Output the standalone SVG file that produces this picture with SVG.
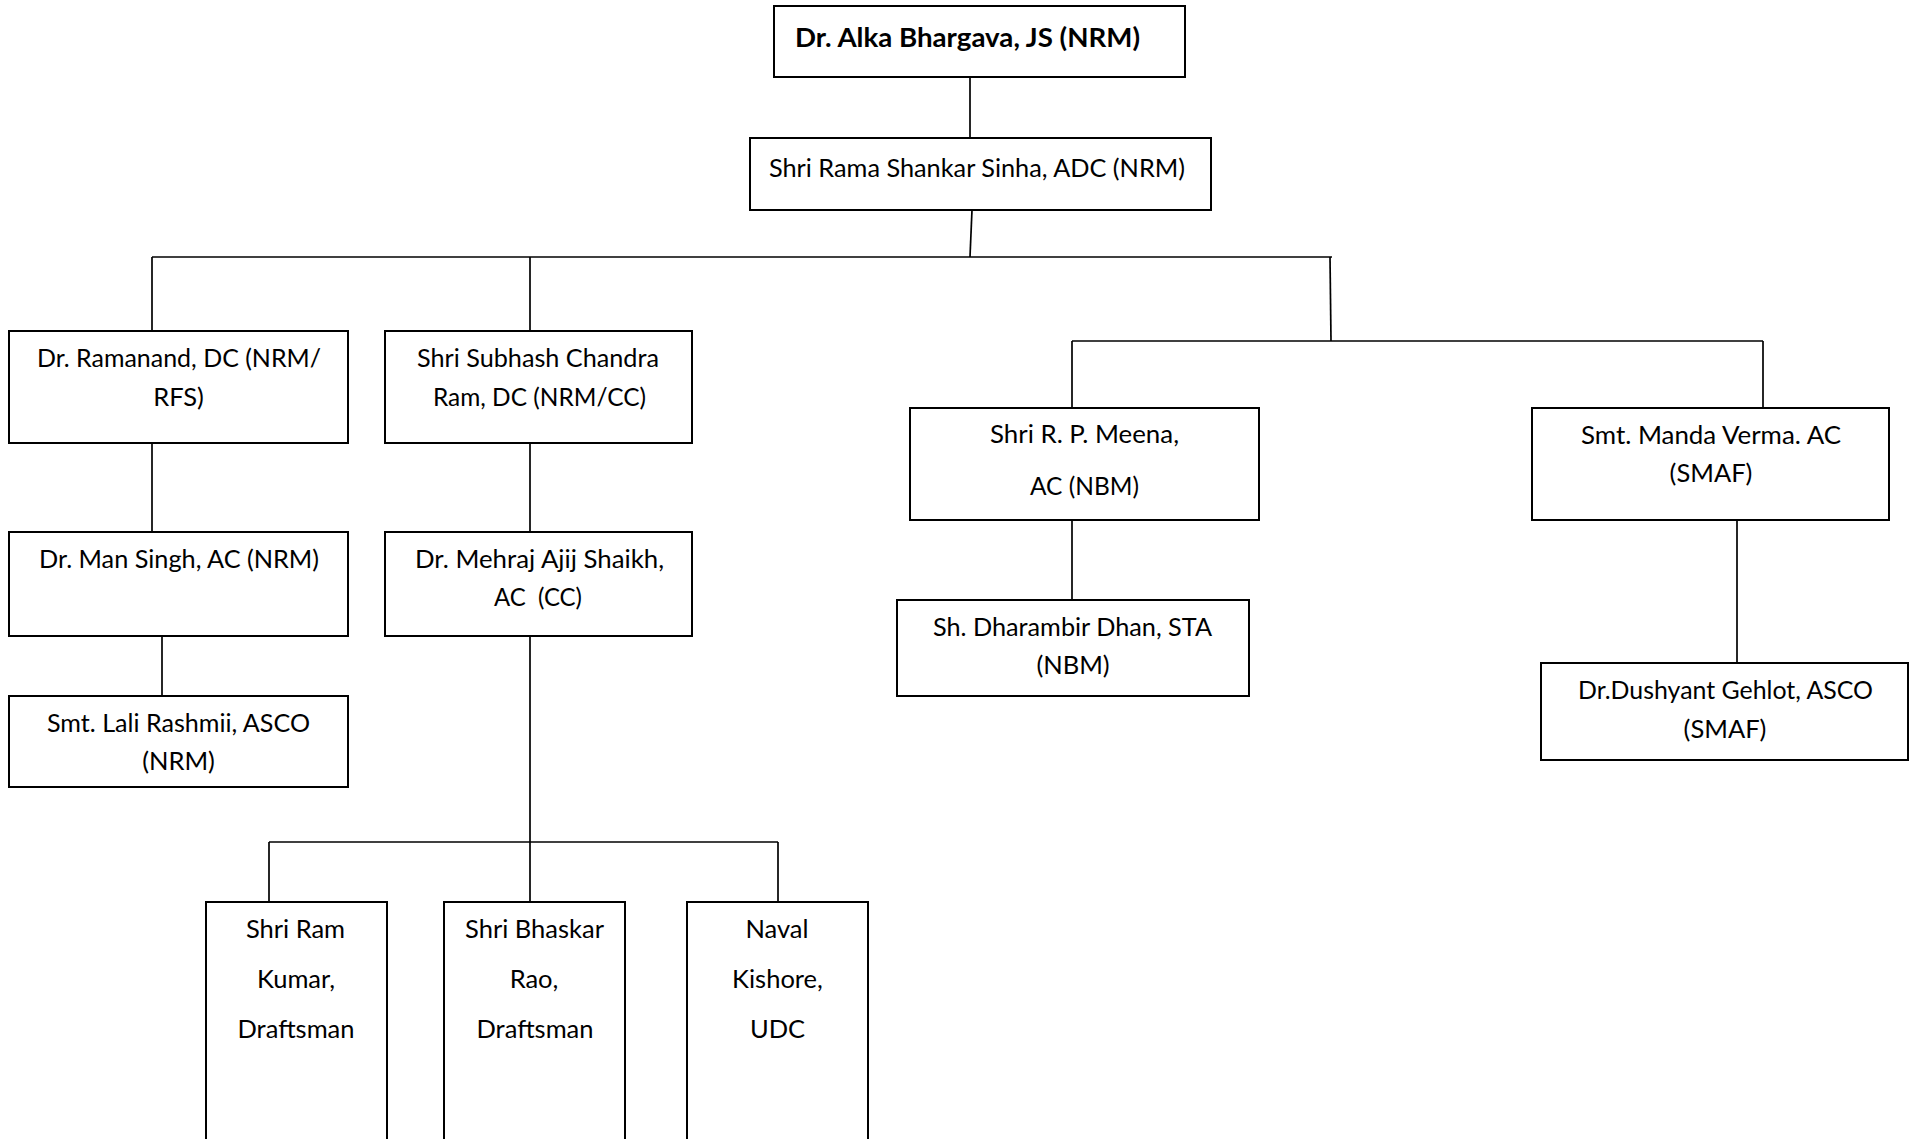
<svg xmlns="http://www.w3.org/2000/svg" width="1918" height="1139" viewBox="0 0 1918 1139">
<style>
.box{fill:#fff;stroke:#000;stroke-width:2}
.ln{stroke:#000;stroke-width:1.7;fill:none}
text{font-family:Lato,"Noto Sans",sans-serif;font-size:25.5px;fill:#000;text-anchor:middle;lengthAdjust:spacingAndGlyphs}
.b{font-weight:bold;font-size:27.5px}
</style>
<rect width="1918" height="1139" fill="#fff"/>
<g id="connectors">
<line class="ln" x1="970" y1="77" x2="970" y2="138"/>
<line class="ln" x1="972" y1="210" x2="970" y2="257"/>
<line class="ln" x1="152" y1="257" x2="1332" y2="257"/>
<line class="ln" x1="152" y1="257" x2="152" y2="331"/>
<line class="ln" x1="530" y1="257" x2="530" y2="331"/>
<line class="ln" x1="1330" y1="257" x2="1331" y2="341"/>
<line class="ln" x1="1072" y1="341" x2="1763" y2="341"/>
<line class="ln" x1="1072" y1="341" x2="1072" y2="408"/>
<line class="ln" x1="1763" y1="341" x2="1763" y2="408"/>
<line class="ln" x1="152" y1="443" x2="152" y2="532"/>
<line class="ln" x1="162" y1="636" x2="162" y2="696"/>
<line class="ln" x1="530" y1="443" x2="530" y2="532"/>
<line class="ln" x1="530" y1="636" x2="530" y2="902"/>
<line class="ln" x1="269" y1="842" x2="778" y2="842"/>
<line class="ln" x1="269" y1="842" x2="269" y2="902"/>
<line class="ln" x1="778" y1="842" x2="778" y2="902"/>
<line class="ln" x1="1072" y1="520" x2="1072" y2="600"/>
<line class="ln" x1="1737" y1="520" x2="1737" y2="663"/>
</g>
<g id="n-alka"><rect class="box" x="774" y="6" width="411" height="71"/><text class="b" x="967.5" y="47" textLength="345" lengthAdjust="spacingAndGlyphs">Dr. Alka Bhargava, JS (NRM)</text></g>
<g id="n-sinha"><rect class="box" x="750" y="138" width="461" height="72"/><text x="977" y="177" textLength="416" lengthAdjust="spacingAndGlyphs">Shri Rama Shankar Sinha, ADC (NRM)</text></g>
<g id="n-ramanand"><rect class="box" x="9" y="331" width="339" height="112"/><text x="179" y="367" textLength="284" lengthAdjust="spacingAndGlyphs">Dr. Ramanand, DC (NRM/</text><text x="178.5" y="406">RFS)</text></g>
<g id="n-subhash"><rect class="box" x="385" y="331" width="307" height="112"/><text x="538" y="367" textLength="242" lengthAdjust="spacingAndGlyphs">Shri Subhash Chandra</text><text x="539.5" y="406" textLength="213" lengthAdjust="spacingAndGlyphs">Ram, DC (NRM/CC)</text></g>
<g id="n-mansingh"><rect class="box" x="9" y="532" width="339" height="104"/><text x="179" y="568" textLength="280" lengthAdjust="spacingAndGlyphs">Dr. Man Singh, AC (NRM)</text></g>
<g id="n-mehraj"><rect class="box" x="385" y="532" width="307" height="104"/><text x="539.5" y="568" textLength="249" lengthAdjust="spacingAndGlyphs">Dr. Mehraj Ajij Shaikh,</text><text x="538" y="606" style="white-space:pre" textLength="88" lengthAdjust="spacingAndGlyphs">AC  (CC)</text></g>
<g id="n-lali"><rect class="box" x="9" y="696" width="339" height="91"/><text x="178.5" y="732" textLength="263" lengthAdjust="spacingAndGlyphs">Smt. Lali Rashmii, ASCO</text><text x="178.5" y="770">(NRM)</text></g>
<g id="n-ramkumar"><rect class="box" x="206" y="902" width="181" height="250"/><text x="295.5" y="938">Shri Ram</text><text x="296" y="988">Kumar,</text><text x="296" y="1038">Draftsman</text></g>
<g id="n-bhaskar"><rect class="box" x="444" y="902" width="181" height="250"/><text x="534.5" y="938">Shri Bhaskar</text><text x="534" y="988">Rao,</text><text x="535" y="1038">Draftsman</text></g>
<g id="n-naval"><rect class="box" x="687" y="902" width="181" height="250"/><text x="777" y="938">Naval</text><text x="777.5" y="988">Kishore,</text><text x="777.5" y="1038">UDC</text></g>
<g id="n-meena"><rect class="box" x="910" y="408" width="349" height="112"/><text x="1084.5" y="443" textLength="189" lengthAdjust="spacingAndGlyphs">Shri R. P. Meena,</text><text x="1084.5" y="495" textLength="109" lengthAdjust="spacingAndGlyphs">AC (NBM)</text></g>
<g id="n-dharambir"><rect class="box" x="897" y="600" width="352" height="96"/><text x="1072.5" y="636" textLength="279" lengthAdjust="spacingAndGlyphs">Sh. Dharambir Dhan, STA</text><text x="1073" y="674">(NBM)</text></g>
<g id="n-manda"><rect class="box" x="1532" y="408" width="357" height="112"/><text x="1711" y="444" textLength="260" lengthAdjust="spacingAndGlyphs">Smt. Manda Verma. AC</text><text x="1711" y="482">(SMAF)</text></g>
<g id="n-dushyant"><rect class="box" x="1541" y="663" width="367" height="97"/><text x="1725.5" y="699" textLength="295" lengthAdjust="spacingAndGlyphs">Dr.Dushyant Gehlot, ASCO</text><text x="1725" y="738">(SMAF)</text></g>
</svg>
